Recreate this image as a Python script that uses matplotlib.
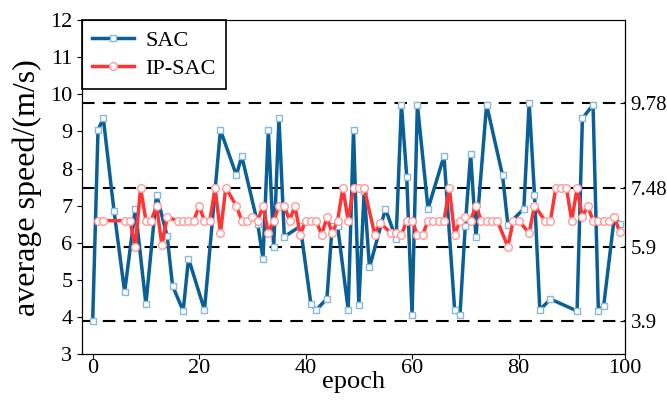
import matplotlib.pyplot as plt

plt.rcParams['font.family'] = ['Liberation Serif', 'DejaVu Serif']

# SAC: epochs that carry a marker and their average speed
sac_epoch = [0, 1, 2, 4, 6, 8, 10, 12, 14, 15, 17, 18, 21, 24, 27, 28, 31, 32, 33, 34,
             35, 36, 39, 41, 42, 44, 45, 46, 48, 49, 50, 51, 52, 55, 57, 58, 59, 60, 61, 63,
             66, 68, 69, 70, 71, 72, 74, 77, 78, 81, 82, 83, 84, 86, 91, 92, 94, 95, 96, 98, 99]
sac_speed = [3.9, 9.04, 9.35, 6.87, 4.68, 6.92, 4.35, 7.30, 6.18, 4.85, 4.17, 5.58, 4.2, 9.04, 7.82, 8.34, 6.52, 5.58, 9.04, 5.88,
             9.35, 6.17, 6.45, 4.35, 4.2, 4.5, 6.47, 6.47, 4.2, 9.04, 4.33, 7.4, 5.34, 6.92, 6.11, 9.72, 7.78, 4.06, 9.72, 6.92,
             8.34, 4.2, 4.06, 6.47, 8.4, 6.16, 9.72, 7.82, 6.49, 6.92, 9.78, 7.3, 4.2, 4.49, 4.17, 9.35, 9.72, 4.17, 4.31, 6.7, 6.52]

# IP-SAC
ip_epoch = [1, 2, 6, 7, 8, 9, 10, 11, 12, 13, 14, 16, 17, 18, 19, 20, 21, 22, 23, 24,
            25, 27, 28, 29, 30, 31, 32, 33, 34, 35, 36, 37, 38, 39, 40, 41, 42, 43, 44, 45,
            46, 47, 48, 49, 50, 51, 53, 54, 56, 57, 58, 59, 60, 61, 62, 63, 64, 65, 66, 67,
            68, 69, 70, 71, 72, 73, 74, 75, 76, 78, 79, 80, 82, 83, 85, 86, 87, 88, 89, 90,
            91, 92, 93, 94, 95, 96, 97, 98, 99]
ip_speed = [6.6, 6.6, 6.6, 6.6, 5.9, 7.48, 6.6, 6.6, 7.0, 5.95, 6.69, 6.6, 6.6, 6.6, 6.6, 7.0, 6.6, 6.6, 7.48, 6.27,
            7.48, 7.0, 6.6, 6.6, 6.69, 6.6, 7.0, 6.27, 6.6, 7.0, 7.0, 6.6, 7.0, 6.22, 6.6, 6.6, 6.6, 6.22, 6.69, 6.27,
            6.6, 7.48, 6.6, 7.48, 7.48, 7.48, 6.22, 6.54, 6.27, 6.27, 6.22, 6.6, 6.6, 6.22, 6.22, 6.6, 6.6, 6.6, 6.6, 7.48,
            6.22, 6.6, 6.69, 6.6, 7.0, 6.6, 6.6, 6.6, 6.6, 5.9, 6.6, 6.6, 6.27, 7.0, 6.6, 6.6, 7.48, 7.48, 7.48, 6.6,
            7.48, 6.69, 7.0, 6.6, 6.6, 6.6, 6.6, 6.69, 6.3]

ref_lines = [3.9, 5.9, 7.48, 9.78]
ref_labels = ['3.9', '5.9', '7.48', '9.78']

fig = plt.figure(figsize=(6.67, 4.17), dpi=100)
ax = fig.add_axes([0.123, 0.15, 0.814, 0.802])

for v in ref_lines:
    ax.axhline(v, color='black', lw=1.5, dashes=(6, 4), zorder=1)

ax.plot(sac_epoch, sac_speed, color='#0a5f96', lw=2.5, marker='s', ms=5,
        mfc='white', mec='#8ab8d8', mew=1, label='SAC', zorder=3)
ax.plot(ip_epoch, ip_speed, color='#ff3535', lw=2.5, marker='o', ms=5.5,
        mfc='white', mec='#ff9a9a', mew=1, label='IP-SAC', zorder=4)

ax.set_xlim(-2, 100)
ax.set_ylim(3, 12)
ax.set_xticks([0, 20, 40, 60, 80, 100])
ax.set_yticks(range(3, 13))
ax.tick_params(labelsize=16, direction='out', top=False, right=False)
ax.tick_params(axis='x', pad=0)
ax.set_xlabel('epoch', fontsize=19, labelpad=-5)
ax.set_ylabel('average speed/(m/s)', fontsize=23)
ax.yaxis.set_label_coords(-0.074, 0.5)

ax2 = ax.twinx()
ax2.set_ylim(3, 12)
ax2.set_yticks(ref_lines)
ax2.set_yticklabels(ref_labels)
ax2.tick_params(labelsize=15, direction='in', pad=4)

leg = ax.legend(loc='upper left', fontsize=16, fancybox=False, framealpha=1,
                edgecolor='black', borderaxespad=0, handlelength=1.9,
                borderpad=0.45, labelspacing=0.35, handletextpad=0.5)
leg.get_frame().set_linewidth(1.2)

fig.savefig('out.png', dpi=100)
